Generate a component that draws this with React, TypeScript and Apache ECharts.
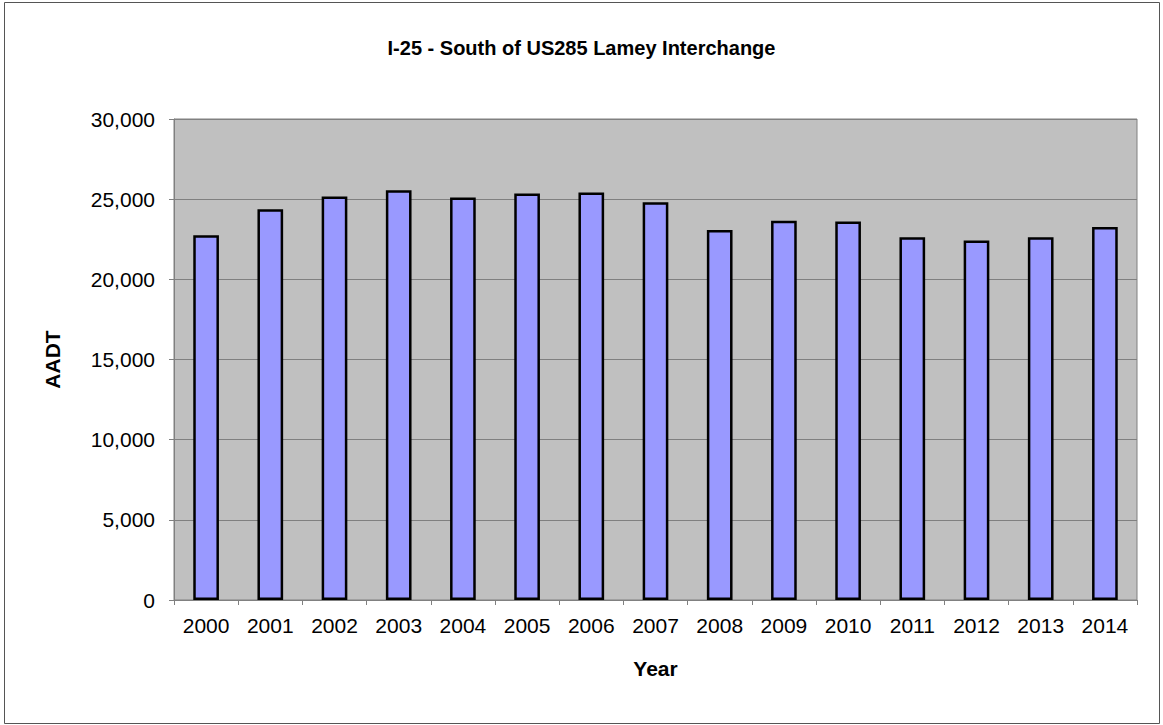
import React, { useEffect, useRef } from "react";
import * as echarts from "echarts";

const years = ["2000","2001","2002","2003","2004","2005","2006","2007","2008","2009","2010","2011","2012","2013","2014"];
const aadt = [22750,24375,25170,25560,25100,25350,25420,24810,23080,23650,23600,22620,22420,22620,23270];
const yTicks = [0, 5000, 10000, 15000, 20000, 25000, 30000];

export default function App() {
  const ref = useRef<HTMLDivElement>(null);
  useEffect(() => {
    const font = "Arial, 'Liberation Sans', sans-serif";
    const chart = echarts.init(ref.current!, undefined, { renderer: "svg" });
    chart.setOption({
      animation: false,
      backgroundColor: "#ffffff",
      textStyle: { fontFamily: font },
      title: {
        text: "I-25 - South of US285 Lamey Interchange",
        left: "center",
        top: 33,
        textStyle: { fontSize: 20, fontWeight: "bold", color: "#000", fontFamily: font },
      },
      graphic: [
        { type: "rect", shape: { x: 4.5, y: 2.5, width: 1155, height: 721 }, style: { fill: "none", stroke: "#555", lineWidth: 1 }, silent: true },
      ],
      grid: { left: 174, top: 119, right: 26, bottom: 125, show: true, backgroundColor: "#C0C0C0", borderColor: "#808080", borderWidth: 1, outerBoundsMode: "none" },
      xAxis: {
        type: "category",
        data: years,
        name: "Year",
        nameLocation: "middle",
        nameGap: 58,
        nameTextStyle: { fontSize: 21, fontWeight: "bold", color: "#000" },
        axisLine: { lineStyle: { color: "#808080", width: 1 } },
        axisTick: { show: true, length: 5, lineStyle: { color: "#808080" } },
        axisLabel: { fontSize: 21, color: "#000", margin: 15 },
      },
      yAxis: {
        type: "value",
        min: 0,
        max: yTicks[yTicks.length - 1],
        interval: yTicks[1] - yTicks[0],
        name: "AADT",
        nameLocation: "middle",
        nameGap: 111,
        nameTextStyle: { fontSize: 21, fontWeight: "bold", color: "#000" },
        axisLine: { show: true, lineStyle: { color: "#808080", width: 1 } },
        axisTick: { show: true, length: 5, lineStyle: { color: "#808080" } },
        axisLabel: {
          fontSize: 21,
          color: "#000",
          margin: 19,
          formatter: (v: number) => v.toLocaleString("en-US"),
        },
        splitLine: { show: true, lineStyle: { color: "#808080", width: 1 } },
      },
      series: [
        {
          type: "bar",
          data: aadt,
          barWidth: "40%",
          itemStyle: { color: "#9999FF", borderColor: "#000", borderWidth: 2.5 },
        },
      ],
    });
    return () => chart.dispose();
  }, []);
  return <div ref={ref} style={{ width: 1163, height: 725, position: "absolute", left: 0, top: 0 }} />;
}
